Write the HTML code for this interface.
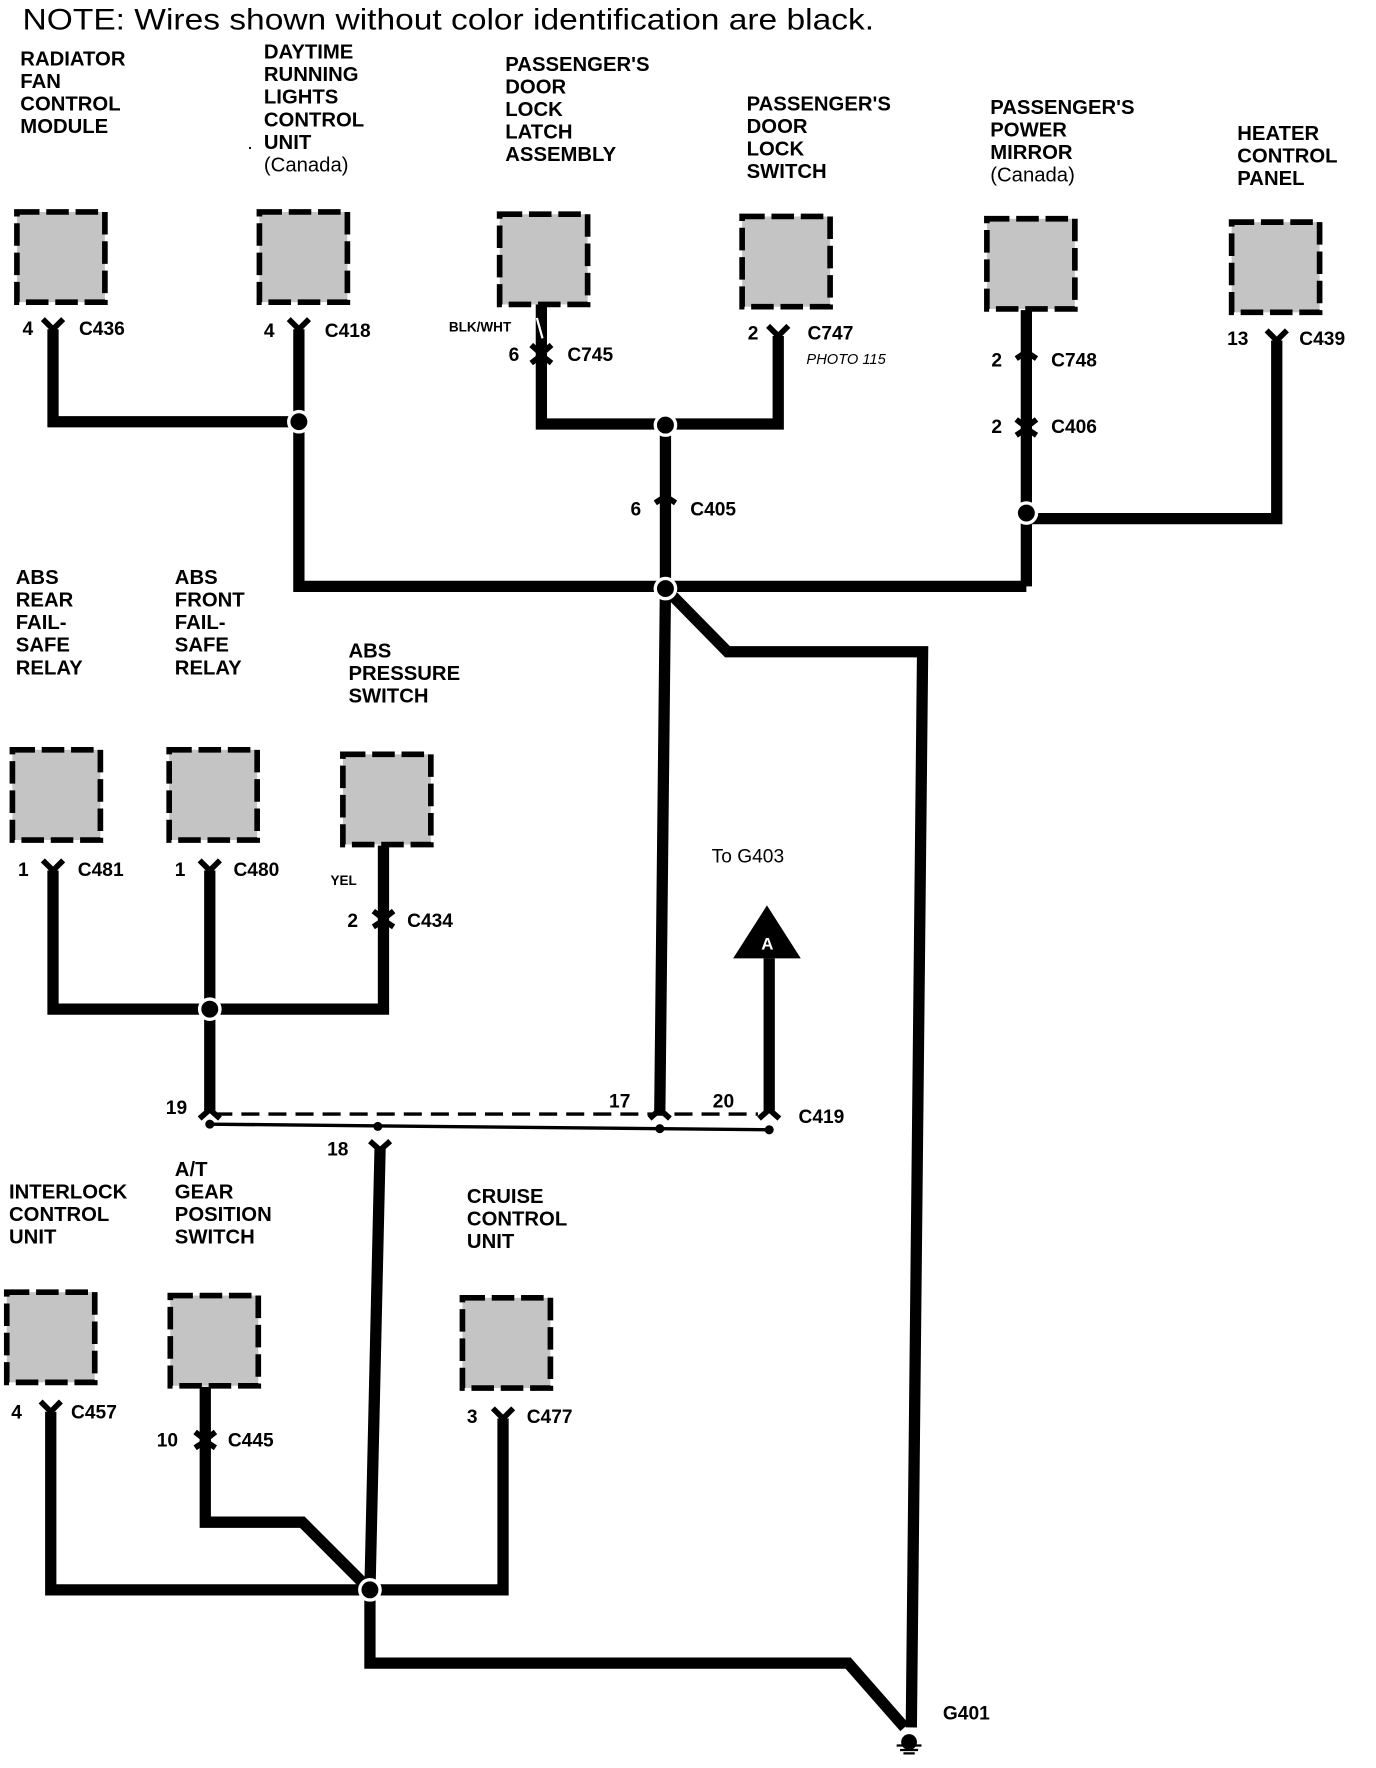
<!DOCTYPE html>
<html><head><meta charset="utf-8"><style>
html,body{margin:0;padding:0;background:#fff;}
svg{display:block;}
.t{font-family:"Liberation Sans Narrow","Liberation Sans",sans-serif;font-weight:bold;font-size:18px;fill:#000;}
.s{font-family:"Liberation Sans Narrow","Liberation Sans",sans-serif;font-weight:bold;font-size:17px;fill:#000;}
.w{fill:none;stroke:#000;stroke-width:10;stroke-linejoin:miter;}
.b{fill:#c4c4c4;stroke:#000;stroke-width:5;stroke-dasharray:20,6;}
.c{fill:none;stroke:#000;stroke-width:5;}
</style></head><body>
<svg width="1376" height="1768" viewBox="0 0 1220 1568" preserveAspectRatio="none" xmlns="http://www.w3.org/2000/svg">
<rect width="1220" height="1568" fill="#fff"/>
<text x="20" y="26" font-family="Liberation Sans Narrow, Liberation Sans, sans-serif" font-size="26" textLength="755" lengthAdjust="spacingAndGlyphs">NOTE: Wires shown without color identification are black.</text>

<g class="t">
<text x="18" y="58">RADIATOR</text><text x="18" y="78">FAN</text><text x="18" y="98">CONTROL</text><text x="18" y="118">MODULE</text>
<text x="234" y="52">DAYTIME</text><text x="234" y="72">RUNNING</text><text x="234" y="92">LIGHTS</text><text x="234" y="112">CONTROL</text><text x="234" y="132">UNIT</text><text x="234" y="152" font-weight="normal">(Canada)</text>
<text x="448" y="63">PASSENGER'S</text><text x="448" y="83">DOOR</text><text x="448" y="103">LOCK</text><text x="448" y="123">LATCH</text><text x="448" y="143">ASSEMBLY</text>
<text x="662" y="98">PASSENGER'S</text><text x="662" y="118">DOOR</text><text x="662" y="138">LOCK</text><text x="662" y="158">SWITCH</text>
<text x="878" y="101">PASSENGER'S</text><text x="878" y="121">POWER</text><text x="878" y="141">MIRROR</text><text x="878" y="161" font-weight="normal">(Canada)</text>
<text x="1097" y="124">HEATER</text><text x="1097" y="144">CONTROL</text><text x="1097" y="164">PANEL</text>
<text x="14" y="518">ABS</text><text x="14" y="538">REAR</text><text x="14" y="558">FAIL-</text><text x="14" y="578">SAFE</text><text x="14" y="598">RELAY</text>
<text x="155" y="518">ABS</text><text x="155" y="538">FRONT</text><text x="155" y="558">FAIL-</text><text x="155" y="578">SAFE</text><text x="155" y="598">RELAY</text>
<text x="309" y="583">ABS</text><text x="309" y="603">PRESSURE</text><text x="309" y="623">SWITCH</text>
<text x="8" y="1063">INTERLOCK</text><text x="8" y="1083">CONTROL</text><text x="8" y="1103">UNIT</text>
<text x="155" y="1043">A/T</text><text x="155" y="1063">GEAR</text><text x="155" y="1083">POSITION</text><text x="155" y="1103">SWITCH</text>
<text x="414" y="1067">CRUISE</text><text x="414" y="1087">CONTROL</text><text x="414" y="1107">UNIT</text>
</g>

<rect class="b" x="15" y="188" width="78" height="80"/>
<rect class="b" x="230" y="188" width="78" height="80"/>
<rect class="b" x="443" y="190" width="78" height="80"/>
<rect class="b" x="658" y="192" width="78" height="80"/>
<rect class="b" x="875" y="194" width="78" height="80"/>
<rect class="b" x="1092" y="197" width="78" height="80"/>
<rect class="b" x="11" y="665" width="78" height="80"/>
<rect class="b" x="150" y="665" width="78" height="80"/>
<rect class="b" x="304" y="669" width="78" height="80"/>
<rect class="b" x="6" y="1146" width="78" height="80"/>
<rect class="b" x="151" y="1149" width="78" height="80"/>
<rect class="b" x="410" y="1151" width="78" height="80"/>

<path class="w" d="M47 292 V374 H265"/>
<path class="w" d="M265 292 V520 H910"/>
<path class="w" d="M480 270 V376 H690 V298"/>
<path class="w" d="M590 376 V522"/>
<path class="w" d="M910 275 V520"/>
<path class="w" d="M1132 302 V460 H910"/>
<path class="w" d="M590 522 L645 578 H818 L808 1532"/>
<path class="w" d="M590 522 L585 985"/>
<path class="w" d="M47 772 V895 H340 V750"/>
<path class="w" d="M186 772 V985"/>
<path class="w" d="M682 850 V985"/>
<path class="w" d="M45 1252 V1410 H446 V1258"/>
<path class="w" d="M182 1230 V1350 H268 L328 1410"/>
<path class="w" d="M337 1018 L328 1410 V1475 H752 L802 1532"/>

<g fill="#000" stroke="#fff" stroke-width="3">
<circle cx="265" cy="374" r="9"/><circle cx="590" cy="377" r="9"/><circle cx="590" cy="522" r="9"/>
<circle cx="910" cy="455" r="9"/><circle cx="186" cy="895" r="9"/><circle cx="328" cy="1410" r="9"/>
</g>

<g class="c">
<path d="M38 283 L47 292 L56 283"/><path d="M256 283 L265 292 L274 283"/>
<path d="M681 289 L690 298 L699 289"/><path d="M1123 293 L1132 302 L1141 293"/>
<path d="M38 763 L47 772 L56 763"/><path d="M177 763 L186 772 L195 763"/>
<path d="M36 1243 L45 1252 L54 1243"/><path d="M437 1249 L446 1258 L455 1249"/>
<path d="M328 1012 L337 1020 L346 1012"/>
<path d="M471 306 L480 314 L489 306 M471 322 L480 315 L489 322"/>
<path d="M581 446 L590 440 L599 446"/>
<path d="M901 318 L910 312 L919 318"/>
<path d="M901 372 L910 379 L919 372 M901 386 L910 380 L919 386"/>
<path d="M331 808 L340 815 L349 808 M331 822 L340 816 L349 822"/>
<path d="M173 1270 L182 1277 L191 1270 M173 1284 L182 1278 L191 1284"/>
<path d="M177 992 L186 984 L195 992"/><path d="M576 992 L585 984 L594 992"/><path d="M673 992 L682 984 L691 992"/>
</g>
<line x1="190" y1="988" x2="672" y2="988" stroke="#000" stroke-width="3" stroke-dasharray="16,8"/>
<line x1="186" y1="997" x2="682" y2="1002" stroke="#000" stroke-width="3"/>
<g fill="#000"><circle cx="186" cy="997" r="4"/><circle cx="335" cy="999" r="4"/><circle cx="585" cy="1001" r="4"/><circle cx="682" cy="1002" r="4"/></g>
<path d="M476 282 L481 300" stroke="#fff" stroke-width="2"/>

<polygon points="680,803 650,850 710,850" fill="#000"/>
<text x="675" y="842" font-family="Liberation Sans, sans-serif" font-weight="bold" font-size="15" fill="#fff">A</text>

<circle cx="806" cy="1545" r="7" fill="#000"/>
<path d="M795 1548 H817 M798 1552 H814 M801 1555 H811" stroke="#000" stroke-width="2"/>

<g class="s">
<text x="20" y="297">4</text><text x="70" y="297">C436</text>
<text x="234" y="299">4</text><text x="288" y="299">C418</text>
<text x="398" y="294" font-size="12">BLK/WHT</text>
<text x="451" y="320">6</text><text x="503" y="320">C745</text>
<text x="663" y="301">2</text><text x="716" y="301">C747</text>
<text x="715" y="323" font-size="13" font-style="italic" font-weight="normal">PHOTO 115</text>
<text x="879" y="325">2</text><text x="932" y="325">C748</text>
<text x="879" y="384">2</text><text x="932" y="384">C406</text>
<text x="1088" y="306">13</text><text x="1152" y="306">C439</text>
<text x="559" y="457">6</text><text x="612" y="457">C405</text>
<text x="16" y="777">1</text><text x="69" y="777">C481</text>
<text x="155" y="777">1</text><text x="207" y="777">C480</text>
<text x="293" y="785" font-size="12">YEL</text>
<text x="308" y="822">2</text><text x="361" y="822">C434</text>
<text x="631" y="765" font-weight="normal">To G403</text>
<text x="147" y="988">19</text><text x="540" y="982">17</text><text x="632" y="982">20</text>
<text x="708" y="996">C419</text><text x="290" y="1025">18</text>
<text x="10" y="1258">4</text><text x="63" y="1258">C457</text>
<text x="139" y="1283">10</text><text x="202" y="1283">C445</text>
<text x="414" y="1262">3</text><text x="467" y="1262">C477</text>
<text x="836" y="1525">G401</text>
<text x="220" y="132" font-size="12">.</text>
</g>
</svg>
</body></html>
